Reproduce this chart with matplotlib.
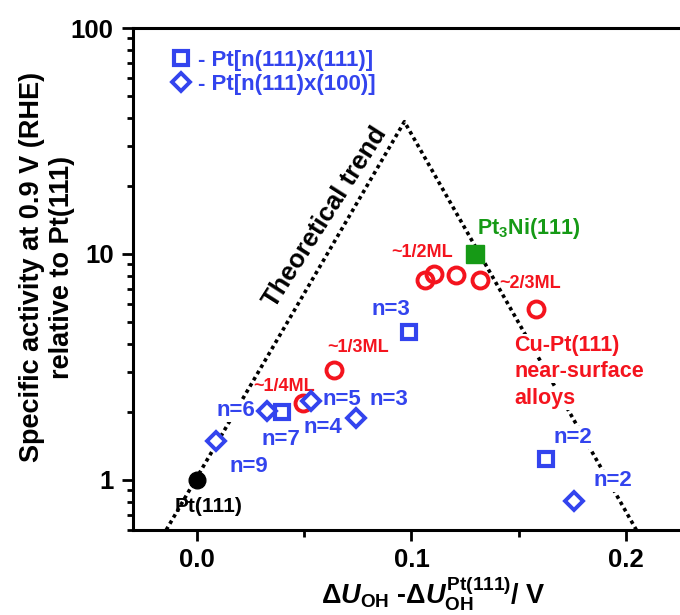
import matplotlib
matplotlib.use('Agg')
import matplotlib.pyplot as plt
from matplotlib.lines import Line2D

plt.rcParams['font.family'] = ['Liberation Sans', 'DejaVu Sans']
plt.rcParams['font.weight'] = 'bold'
plt.rcParams['axes.labelweight'] = 'bold'
plt.rcParams['mathtext.fontset'] = 'custom'
plt.rcParams['mathtext.rm'] = 'Liberation Sans:bold'
plt.rcParams['mathtext.it'] = 'Liberation Sans:bold:italic'
plt.rcParams['mathtext.bf'] = 'Liberation Sans:bold'

BLUE = '#3344ee'
RED = '#f4141e'
GREEN = '#169a16'

# data
pt111_x, pt111_y = [0.0], [1.0]

sq_x = [0.099, 0.0397, 0.1626]            # Pt[n(111)x(111)]
sq_y = [4.5, 2.0, 1.24]

dia_x = [0.0089, 0.0327, 0.053, 0.0743, 0.1757]   # Pt[n(111)x(100)]
dia_y = [1.49, 2.02, 2.24, 1.87, 0.81]

cu_x = [0.0495, 0.064, 0.1065, 0.1107, 0.121, 0.132, 0.158]   # Cu-Pt(111)
cu_y = [2.2, 3.05, 7.66, 8.15, 8.05, 7.66, 5.7]

ni_x, ni_y = [0.1295], [10.0]

trend_x = [-0.0145, 0.0967, 0.205]
trend_y = [0.6, 38.5, 0.6]

fig = plt.figure(figsize=(6.8, 6.15), dpi=100)
ax = fig.add_axes([133/680, 1 - 530/615, 1 - 133/680 + 0.002, (530 - 28)/615])
ax.set_yscale('log')
ax.set_xlim(-0.03, 0.226)
ax.set_ylim(0.6, 100)

# theoretical volcano
ax.plot(trend_x, trend_y, color='black', ls=(0, (1, 1)), lw=2.6, zorder=1)

ax.plot(pt111_x, pt111_y, 'o', ms=12, color='black', zorder=3)
ax.plot(sq_x, sq_y, 's', ms=10.5, mfc='white', mec=BLUE, mew=3, zorder=3)
ax.plot(dia_x, dia_y, 'D', ms=9.5, mfc='white', mec=BLUE, mew=2.8, zorder=3)
ax.plot(cu_x, cu_y, 'o', ms=11.5, mfc='none', mec=RED, mew=2.8, zorder=2)
ax.plot(ni_x, ni_y, 's', ms=13, color=GREEN, zorder=3)

bg = dict(fc='white', ec='none', pad=0.5)
# blue n labels
blue_labels = [('n=3', 0.0905, 5.7), ('n=7', 0.0390, 1.51), ('n=2', 0.1755, 1.54),
               ('n=6', 0.0180, 2.02), ('n=5', 0.0675, 2.28), ('n=3', 0.0895, 2.28),
               ('n=4', 0.0585, 1.70), ('n=9', 0.0240, 1.15), ('n=2', 0.1940, 0.99)]
for t, x, y in blue_labels:
    ax.text(x, y, t, color=BLUE, fontsize=16, ha='center', va='center', bbox=bg, zorder=2)

red_labels = [('~1/2ML', 0.1050, 10.1), ('~1/3ML', 0.0750, 3.85), ('~1/4ML', 0.0405, 2.6),
              ('~2/3ML', 0.1556, 7.4)]
for t, x, y in red_labels:
    ax.text(x, y, t, color=RED, fontsize=13, ha='center', va='center', zorder=2)

for i, t in enumerate(['Cu-Pt(111)', 'near-surface', 'alloys']):
    ax.text(0.1480, 10 ** ((480 - 346 - 26.5 * i) / 225), t, color=RED, fontsize=15.5,
            ha='left', va='center', bbox=bg, zorder=2)

ax.text(0.0053, 0.765, 'Pt(111)', color='black', fontsize=15, ha='center', va='center')
ax.text(0.1545, 13.0, r'Pt$_3$Ni(111)', color=GREEN, fontsize=15.5, ha='center', va='center')
ax.text(0.0598, 14.6, 'Theoretical trend', fontsize=18.5, rotation=57.5,
        ha='center', va='center', color='black')

# legend
handles = [Line2D([], [], ls='none', marker='s', ms=10, mfc='white', mec=BLUE, mew=3),
           Line2D([], [], ls='none', marker='D', ms=9, mfc='white', mec=BLUE, mew=2.8)]
leg = ax.legend(handles, ['- Pt[n(111)x(111)]', '- Pt[n(111)x(100)]'], loc='upper left',
                bbox_to_anchor=(0.03, 0.997), frameon=False, fontsize=16,
                handletextpad=0.3, labelspacing=0.15, handlelength=1.0)
for txt in leg.get_texts():
    txt.set_color(BLUE)

for s in ['left', 'bottom', 'top']:
    ax.spines[s].set_linewidth(2.2)
ax.spines['right'].set_visible(False)
ax.set_xticks([0.0, 0.1, 0.2])
ax.set_xticklabels(['0.0', '0.1', '0.2'])
ax.set_xticks([0.05, 0.15], minor=True)
ax.set_yticks([1, 10, 100])
ax.set_yticklabels(['1', '10', '100'])
ax.tick_params(which='major', direction='out', length=8, width=2, labelsize=18.5, pad=6)
ax.tick_params(axis='x', which='major', pad=5)
ax.tick_params(which='minor', direction='out', length=5, width=2)
ax.tick_params(axis='y', which='minor', length=4, labelleft=False)

ax.set_xlabel(r'$\Delta \mathit{U}_{\mathrm{OH}}$ -$\Delta \mathit{U}_{\mathrm{OH}}^{\mathrm{Pt(111)}}$/ V',
              fontsize=19.5)
ax.xaxis.set_label_coords(0.548, -0.087)
ax.set_ylabel('Specific activity at 0.9 V (RHE)\nrelative to Pt(111)',
              fontsize=19.5, linespacing=1.2)
ax.yaxis.set_label_coords(-0.106, 0.524)

fig.savefig('out.png', dpi=100)
